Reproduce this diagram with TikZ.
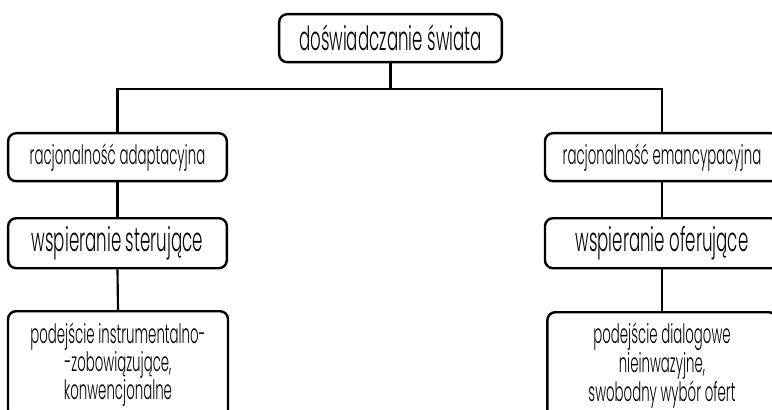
\documentclass[tikz,border=0pt]{standalone}
\usepackage{fontspec}
\setmainfont[FakeStretch=0.5]{Poppins Light}
\begin{document}
\begin{tikzpicture}[x=0.75pt,y=-0.75pt,
  box/.style={draw,line width=1.8pt,rounded corners=6pt,inner sep=0pt,align=center,anchor=north},
  big/.style={font=\fontsize{25}{28}\selectfont},
  small/.style={font=\fontsize{20}{20}\selectfont},
  conn/.style={line width=1.6pt}]
\useasboundingbox (0,0) rectangle (772,410);
\clip (0,0) rectangle (772,410);
\node[box,big,minimum width=167pt,minimum height=36pt] (top) at (390.5,13) {doświadczanie świata};
\node[box,small,minimum width=164pt,minimum height=36pt] (l1) at (117.5,132) {racjonalność adaptacyjna};
\node[box,big,minimum width=164pt,minimum height=37.5pt] (l2) at (117.5,217) {wspieranie sterujące};
\node[box,small,minimum width=165pt,minimum height=80pt] (l3) at (118,310) {podejście instrumentalno-\\-zobowiązujące,\\konwencjonalne};
\node[box,small,minimum width=175.5pt,minimum height=36pt] (r1) at (662,132) {racjonalność emancypacyjna};
\node[box,big,minimum width=175.5pt,minimum height=37.5pt] (r2) at (662,217) {wspieranie oferujące};
\node[box,small,minimum width=172pt,minimum height=80pt] (r3) at (662,311) {podejście dialogowe\\nieinwazyjne,\\swobodny wybór ofert};
\coordinate (j) at (390.5,89);
\draw[conn] (top.south) -- (j);
\draw[conn] (l1.north) |- (j) -| (r1.north);
\draw[conn] (l1.south) -- (l2.north);
\draw[conn] (l2.south) -- (l3.north);
\draw[conn] (r1.south) -- (r2.north);
\draw[conn] (r2.south) -- (r3.north);
\end{tikzpicture}
\end{document}
